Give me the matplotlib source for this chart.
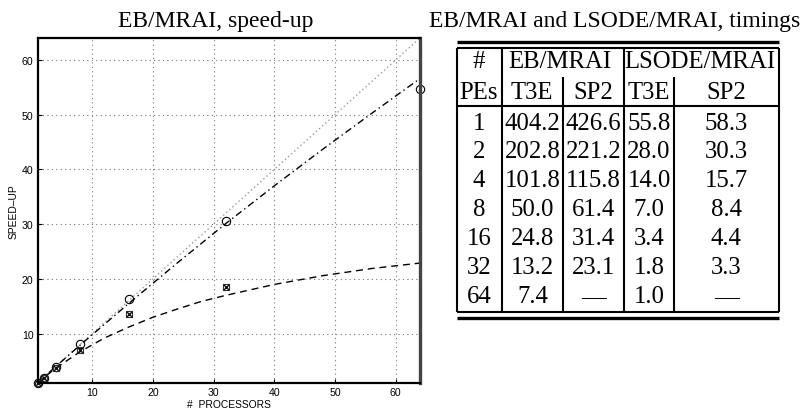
import matplotlib
matplotlib.use("Agg")
import matplotlib.pyplot as plt

# speed-up data
procs = [1, 2, 4, 8, 16, 32, 64]
t3e_speedup = [1.0, 2.0, 4.0, 8.1, 16.3, 30.6, 54.6]
sp2_procs = [1, 2, 4, 8, 16, 32]
sp2_speedup = [1.0, 1.9, 3.7, 7.0, 13.6, 18.5]

# fitted curves, read at a few points along each line
fit_x = [1, 2, 4, 8, 12, 16, 20, 24, 28, 32, 40, 48, 56, 64]
t3e_fit = [1.0, 2.0, 4.0, 7.9, 11.7, 15.5, 19.2, 22.9, 26.5, 30.1, 37.0, 43.7, 50.2, 56.6]
sp2_fit = [1.0, 1.95, 3.7, 6.7, 9.2, 11.2, 13.0, 14.5, 15.9, 17.0, 19.0, 20.6, 21.9, 22.9]
ideal_x = [1, 64]

# timing table
pes = ["1", "2", "4", "8", "16", "32", "64"]
eb_t3e = ["404.2", "202.8", "101.8", "50.0", "24.8", "13.2", "7.4"]
eb_sp2 = ["426.6", "221.2", "115.8", "61.4", "31.4", "23.1", "\u2014"]
ls_t3e = ["55.8", "28.0", "14.0", "7.0", "3.4", "1.8", "1.0"]
ls_sp2 = ["58.3", "30.3", "15.7", "8.4", "4.4", "3.3", "\u2014"]

W, H = 811, 410
fig = plt.figure(figsize=(W / 100, H / 100), dpi=100)

# ---- speed-up plot
ax = fig.add_axes([37.5 / W, (H - 384) / H, (420 - 37.5) / W, (384 - 39) / H])
ax.plot(ideal_x, ideal_x, linestyle=(0, (1, 2)), color="#999999", lw=1)
ax.plot(fit_x, t3e_fit, linestyle=(0, (5, 2.5, 1, 2.5)), color="black", lw=1)
ax.plot(fit_x, sp2_fit, linestyle=(0, (5, 3.5)), color="black", lw=1)
ax.plot(procs, t3e_speedup, "o", mfc="none", mec="black", ms=6, mew=0.8, clip_on=False)
ax.plot(sp2_procs, sp2_speedup, "s", mfc="none", mec="#333333", ms=4.5, mew=0.8, clip_on=False)
ax.plot(sp2_procs, sp2_speedup, "x", color="#111111", ms=4.5, mew=1.0, clip_on=False)

ax.set_xlim(1, 64)
ax.set_ylim(1, 64)
ax.set_xticks([10, 20, 30, 40, 50, 60])
ax.set_yticks([10, 20, 30, 40, 50, 60])
ax.grid(True, linestyle=(0, (1, 3)), color="#777777", lw=0.8)
ax.tick_params(direction="in", length=3, labelsize=7.6, pad=3)
for lab in ax.get_xticklabels() + ax.get_yticklabels():
    lab.set_family("Liberation Sans")
for s in ["left", "bottom", "top"]:
    ax.spines[s].set_linewidth(1.6)
ax.spines["right"].set_linewidth(2.4)
ax.spines["right"].set_color("#444444")
ax.set_xlabel("#  PROCESSORS", fontsize=7.4, family="Liberation Sans", labelpad=1)
ax.set_ylabel("SPEED\u2013UP", fontsize=7.4, family="Liberation Sans", labelpad=2)
fig.text(216 / W, 1 - 22 / H, "EB/MRAI, speed-up", ha="center", va="center",
         fontsize=17, family="Liberation Serif")

# ---- timing table (drawn in pixel coordinates)
tb = fig.add_axes([0, 0, 1, 1])
tb.set_xlim(0, W)
tb.set_ylim(H, 0)
tb.axis("off")
tb.patch.set_alpha(0)

tb.text(615, 22, "EB/MRAI and LSODE/MRAI, timings", ha="center", va="center",
        fontsize=17, family="Liberation Serif")

left, right = 457, 779
top, bottom = 49, 313
tb.plot([left, right], [43, 43], color="black", lw=2.4, solid_capstyle="butt")
tb.plot([left, right], [318.5, 318.5], color="black", lw=2.4, solid_capstyle="butt")
tb.plot([left, right], [bottom, bottom], color="black", lw=1.5, solid_capstyle="butt")
tb.plot([left, right], [top, top], color="black", lw=1.5, solid_capstyle="butt")
tb.plot([left, right], [107, 107], color="black", lw=1.5, solid_capstyle="butt")
for x in [left, 501.5, 624, right]:
    tb.plot([x, x], [top, bottom], color="black", lw=1.5, solid_capstyle="butt")
for x in [563, 674]:
    tb.plot([x, x], [78, bottom], color="black", lw=1.5, solid_capstyle="butt")

fs = 17.8
tkw = dict(ha="center", va="center", fontsize=fs, family="Liberation Serif")
tb.text(479, 62, "#", **tkw)
tb.text(560, 62, "EB/MRAI", **tkw)
tb.text(700, 62, "LSODE/MRAI", **tkw)
tb.text(479, 93, "PEs", **tkw)
tb.text(532, 93, "T3E", **tkw)
tb.text(593.5, 93, "SP2", **tkw)
tb.text(649, 93, "T3E", **tkw)
tb.text(726, 93, "SP2", **tkw)

col_x = [479, 532.5, 593.5, 649, 726]
row_y0, row_dy = 123.5, 29
for i in range(len(pes)):
    y = row_y0 + i * row_dy
    for cx, val in zip(col_x, [pes[i], eb_t3e[i], eb_sp2[i], ls_t3e[i], ls_sp2[i]]):
        tb.text(cx, y, val, **tkw)

fig.savefig("out.png", dpi=100)
